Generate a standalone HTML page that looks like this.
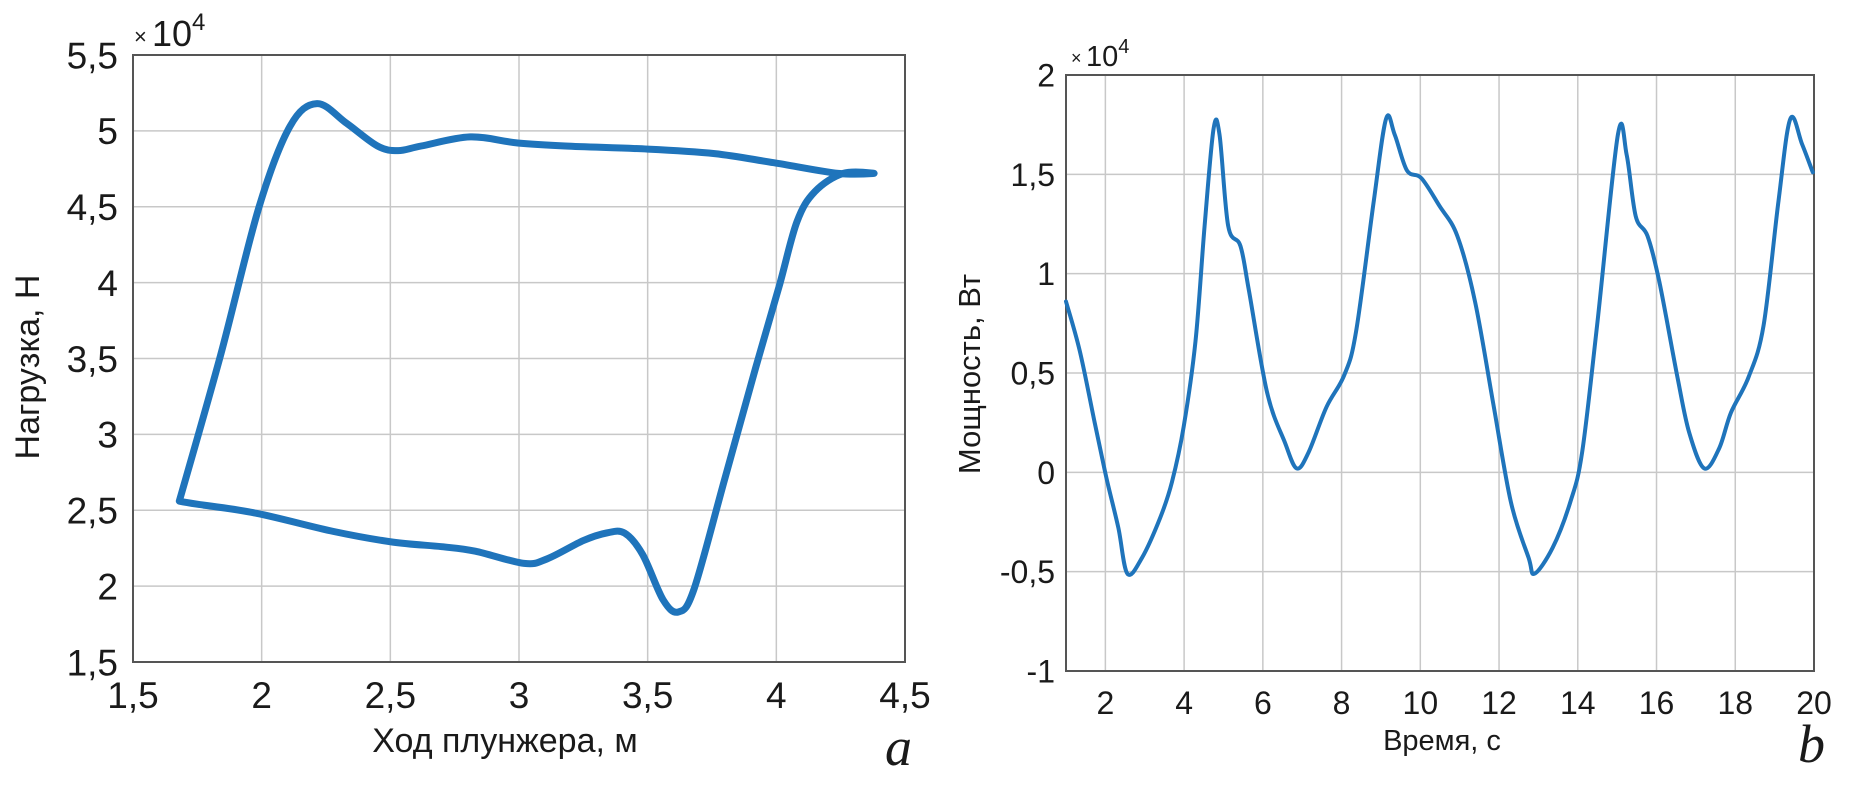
<!DOCTYPE html>
<html><head><meta charset="utf-8">
<style>
html,body{margin:0;padding:0;background:#fff;}
svg{display:block;}
text{font-family:"Liberation Sans","DejaVu Sans",sans-serif;fill:#1a1a1a;}
</style></head>
<body>
<svg id="svg" width="1866" height="790" viewBox="0 0 1866 790" xmlns="http://www.w3.org/2000/svg">
<g id="chartA"></g>
<g id="chartB"></g>
</svg>
<script>
// Chart a: dynamogram (load vs plunger stroke)
const aXTicks = [1.5, 2, 2.5, 3, 3.5, 4, 4.5];
const aYTicks = [1.5, 2, 2.5, 3, 3.5, 4, 4.5, 5, 5.5];
const aStroke = [1.68,1.84,1.99,2.11,2.215,2.33,2.45,2.53,2.62,2.81,2.995,3.18,3.50,3.76,3.99,4.24,4.38,4.26,4.15,4.08,4.01,3.92,3.80,3.68,3.62,3.56,3.48,3.41,3.34,3.25,3.11,3.02,2.83,2.70,2.51,2.28,1.98,1.75,1.68];
const aLoad   = [2.56,3.52,4.50,5.03,5.18,5.05,4.90,4.87,4.90,4.96,4.92,4.90,4.88,4.85,4.79,4.72,4.72,4.72,4.60,4.40,3.97,3.44,2.71,1.98,1.83,1.91,2.21,2.35,2.35,2.30,2.18,2.15,2.23,2.26,2.29,2.36,2.48,2.54,2.56];
// Chart b: power vs time (units of 1e4 W)
const bXTicks = [2,4,6,8,10,12,14,16,18,20];
const bYTicks = [-1,-0.5,0,0.5,1,1.5,2];
const bTime  = [1,1.35,1.73,2.03,2.33,2.56,2.93,3.39,3.69,3.99,4.29,4.52,4.75,4.90,5.12,5.43,5.65,6.11,6.56,6.86,7.16,7.62,8.07,8.37,8.82,9.13,9.35,9.66,10.03,10.49,10.94,11.39,11.85,12.30,12.75,12.90,13.36,13.81,14.11,14.49,15.02,15.24,15.47,15.77,16.07,16.53,16.83,17.21,17.59,17.89,18.34,18.72,19.10,19.40,19.70,19.97];
const bPower = [0.86,0.61,0.25,-0.03,-0.28,-0.51,-0.43,-0.23,-0.05,0.23,0.66,1.24,1.73,1.70,1.24,1.14,0.91,0.40,0.15,0.02,0.10,0.33,0.49,0.71,1.37,1.78,1.70,1.52,1.48,1.34,1.19,0.86,0.35,-0.15,-0.43,-0.51,-0.38,-0.15,0.10,0.74,1.70,1.60,1.29,1.19,0.96,0.48,0.20,0.02,0.12,0.30,0.48,0.74,1.37,1.78,1.65,1.51];

const NS = "http://www.w3.org/2000/svg";
function mk(parent, tag, attrs, txt){
  const e = document.createElementNS(NS, tag);
  for (const k in attrs) e.setAttribute(k, attrs[k]);
  if (txt !== undefined) e.textContent = txt;
  parent.appendChild(e);
  return e;
}
function fmt(v){ return String(v).replace('.', ','); }
function smooth(pts){
  let d = "M" + pts[0][0].toFixed(1) + "," + pts[0][1].toFixed(1);
  for (let i = 0; i < pts.length - 1; i++){
    const p0 = pts[Math.max(0,i-1)], p1 = pts[i], p2 = pts[i+1], p3 = pts[Math.min(pts.length-1,i+2)];
    const c1 = [p1[0]+(p2[0]-p0[0])/6, p1[1]+(p2[1]-p0[1])/6];
    const c2 = [p2[0]-(p3[0]-p1[0])/6, p2[1]-(p3[1]-p1[1])/6];
    d += "C"+c1[0].toFixed(1)+","+c1[1].toFixed(1)+" "+c2[0].toFixed(1)+","+c2[1].toFixed(1)+" "+p2[0].toFixed(1)+","+p2[1].toFixed(1);
  }
  return d;
}

function drawChart(g, cfg){
  const {L,R,T,B,xmin,xmax,ymin,ymax,xt,yt,xs,ys,lw,fs} = cfg;
  const sx = v => L + (v - xmin) / (xmax - xmin) * (R - L);
  const sy = v => B - (v - ymin) / (ymax - ymin) * (B - T);
  for (const v of xt){
    const ln = mk(g, "line", {x1:sx(v), x2:sx(v), y1:T, y2:B, stroke:"#c8c8c8", "stroke-width":1.5});
    
    
    const t = mk(g, "text", {x:sx(v), y:cfg.xly, "text-anchor":"middle", "font-size":fs}, fmt(v));
    
    
  }
  for (const v of yt){
    const ln = mk(g, "line", {x1:L, x2:R, y1:sy(v), y2:sy(v), stroke:"#c8c8c8", "stroke-width":1.5});
    
    
    const t = mk(g, "text", {x:cfg.ylx, y:sy(v)+fs*0.36, "text-anchor":"end", "font-size":fs}, fmt(v));
    
    
  }
  const box = mk(g, "rect", {x:L, y:T, width:R-L, height:B-T, fill:"none", stroke:"#555", "stroke-width":2});
  
  
  const pts = xs.map((x,i) => [sx(x), sy(ys[i])]);
  const p = mk(g, "path", {d:smooth(pts), fill:"none", stroke:"#1f74bb", "stroke-width":lw, "stroke-linejoin":"round", "stroke-linecap":"round"});
  
  
}

const gA = document.getElementById('chartA');
drawChart(gA, {L:133,R:905,T:55,B:662,xmin:1.5,xmax:4.5,ymin:1.5,ymax:5.5,xt:aXTicks,yt:aYTicks,xs:aStroke,ys:aLoad,lw:7,fs:37,xly:708,ylx:118});
const gB = document.getElementById('chartB');
drawChart(gB, {L:1066,R:1814,T:75,B:671,xmin:1,xmax:20,ymin:-1,ymax:2,xt:bXTicks,yt:bYTicks,xs:bTime,ys:bPower,lw:4,fs:32,xly:714,ylx:1055});
</script>
<svg style="position:absolute;left:0;top:0" width="1866" height="790" xmlns="http://www.w3.org/2000/svg">
  <text x="134" y="44" font-size="22" style="font-family:'Liberation Sans',sans-serif">×</text>
  <text x="152" y="46" font-size="36" style="font-family:'Liberation Sans',sans-serif">10<tspan dy="-16" font-size="24">4</tspan></text>
  <text x="505" y="752" font-size="34" text-anchor="middle" style="font-family:'Liberation Sans',sans-serif">Ход плунжера, м</text>
  <text transform="translate(39,367) rotate(-90)" font-size="34" text-anchor="middle" style="font-family:'Liberation Sans',sans-serif">Нагрузка,  Н</text>
  <text x="885" y="765" font-size="54" font-style="italic" style="font-family:'Liberation Serif',serif">a</text>
  <text x="1071" y="64" font-size="18" style="font-family:'Liberation Sans',sans-serif">×</text>
  <text x="1086" y="66" font-size="29" style="font-family:'Liberation Sans',sans-serif">10<tspan dy="-13" font-size="20">4</tspan></text>
  <text x="1442" y="750" font-size="29" text-anchor="middle" style="font-family:'Liberation Sans',sans-serif">Время, с</text>
  <text transform="translate(980,374) rotate(-90)" font-size="31" text-anchor="middle" style="font-family:'Liberation Sans',sans-serif">Мощность, Вт</text>
  <text x="1798" y="762" font-size="54" font-style="italic" style="font-family:'Liberation Serif',serif">b</text>
</svg>
</body></html>
